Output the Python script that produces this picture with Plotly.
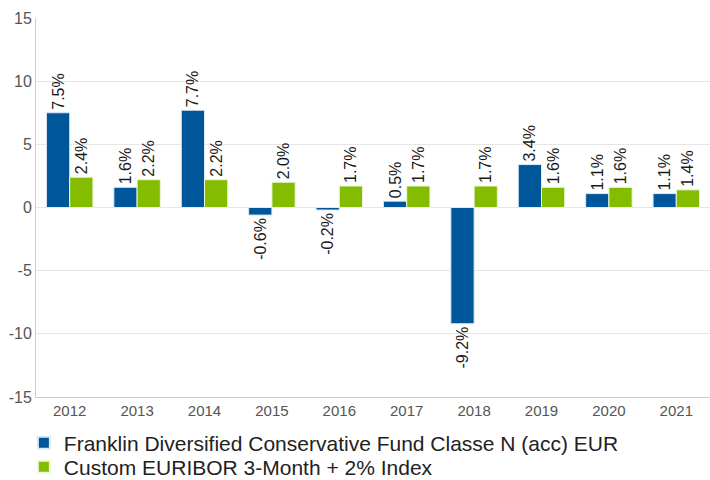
import plotly.graph_objects as go

years = ["2012", "2013", "2014", "2015", "2016", "2017", "2018", "2019", "2020", "2021"]
fund = [7.5, 1.6, 7.7, -0.6, -0.2, 0.5, -9.2, 3.4, 1.1, 1.1]
index = [2.4, 2.2, 2.2, 2.0, 1.7, 1.7, 1.7, 1.6, 1.6, 1.4]
fund_name = "Franklin Diversified Conservative Fund Classe N (acc) EUR"
index_name = "Custom EURIBOR 3-Month + 2% Index"
y_ticks = [-15, -10, -5, 0, 5, 10, 15]
y_tick_labels = ["-15", "-10", "-5", "0", "5", "10", "15"]

label_font = dict(size=16, color="#1a1a1a", family="Liberation Sans, Arial")

fig = go.Figure()
fig.add_trace(go.Bar(
    x=years, y=fund, name=fund_name, legend="legend",
    marker=dict(color="#00569b", line=dict(color="#dfe9f3", width=1)),
    text=[f"{v:.1f}%" for v in fund], textposition="outside", textangle=-90,
    textfont=label_font, cliponaxis=False,
))
fig.add_trace(go.Bar(
    x=years, y=index, name=index_name, legend="legend2",
    marker=dict(color="#84bd00", line=dict(color="#eef6dc", width=1)),
    text=[f"{v:.1f}%" for v in index], textposition="outside", textangle=-90,
    textfont=label_font, cliponaxis=False,
))

legend_common = dict(
    orientation="v", x=-0.018, xanchor="left",
    yref="container", yanchor="middle",
    font=dict(size=21, color="#222222"),
    itemsizing="constant", bgcolor="rgba(0,0,0,0)",
)

fig.update_layout(
    width=710, height=480,
    margin=dict(l=36, r=0, t=18, b=83, autoexpand=False),
    paper_bgcolor="white", plot_bgcolor="white",
    barmode="group", bargap=0.31, bargroupgap=0.0,
    font=dict(family="Liberation Sans, Arial", color="#555555", size=14),
    uniformtext=dict(minsize=16, mode="show"),
    showlegend=True,
    legend=dict(legend_common, y=1 - 443 / 480),
    legend2=dict(legend_common, y=1 - 467 / 480),
    xaxis=dict(
        showgrid=False, showline=True, linecolor="#cccccc", linewidth=1,
        ticks="", tickfont=dict(size=15, color="#555555"), automargin=False,
    ),
    yaxis=dict(
        range=[-15, 15], tickvals=y_ticks, ticktext=y_tick_labels,
        showgrid=True, gridcolor="#e6e6e6", gridwidth=1,
        zeroline=True, zerolinecolor="#e6e6e6", zerolinewidth=1,
        showline=True, linecolor="#cccccc", linewidth=1,
        ticks="", tickfont=dict(size=16, color="#555555"), automargin=False,
    ),
)

fig.write_html("out.html", config={"displayModeBar": False},
               post_script="document.body.style.margin='0';")
